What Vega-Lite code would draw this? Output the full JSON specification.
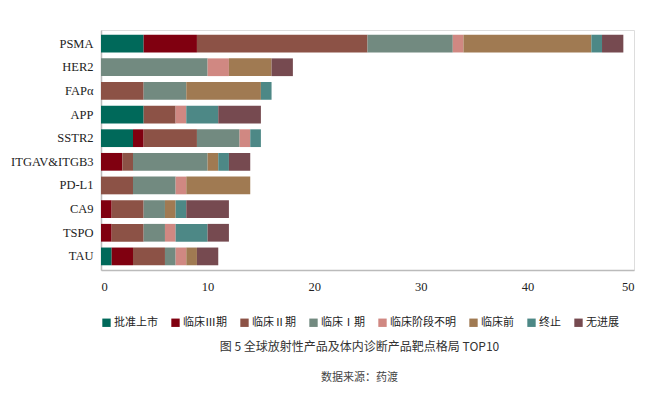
{
  "$schema": "https://vega.github.io/schema/vega-lite/v6.json",
  "width": 533,
  "height": 240,
  "autosize": {"type": "none"},
  "padding": {"left": 101, "top": 30, "right": 16, "bottom": 129},
  "background": "white",
  "title": {
    "text": "图 5   全球放射性产品及体内诊断产品靶点格局 TOP10",
    "subtitle": "数据来源：药渡",
    "orient": "bottom",
    "anchor": "middle",
    "dx": -8,
    "font": "Noto Sans CJK SC",
    "fontSize": 12,
    "fontWeight": "normal",
    "color": "#333333",
    "subtitleFont": "Noto Sans CJK SC",
    "subtitleFontSize": 11,
    "subtitleColor": "#444444",
    "subtitlePadding": 18,
    "offset": 14
  },
  "data": {
    "values": [
      {"target": "PSMA", "stage": "批准上市", "n": 4},
      {"target": "PSMA", "stage": "临床Ⅲ期", "n": 5},
      {"target": "PSMA", "stage": "临床Ⅱ期", "n": 16},
      {"target": "PSMA", "stage": "临床Ⅰ期", "n": 8},
      {"target": "PSMA", "stage": "临床阶段不明", "n": 1},
      {"target": "PSMA", "stage": "临床前", "n": 12},
      {"target": "PSMA", "stage": "终止", "n": 1},
      {"target": "PSMA", "stage": "无进展", "n": 2},
      {"target": "HER2", "stage": "临床Ⅰ期", "n": 10},
      {"target": "HER2", "stage": "临床阶段不明", "n": 2},
      {"target": "HER2", "stage": "临床前", "n": 4},
      {"target": "HER2", "stage": "无进展", "n": 2},
      {"target": "FAPα", "stage": "临床Ⅱ期", "n": 4},
      {"target": "FAPα", "stage": "临床Ⅰ期", "n": 4},
      {"target": "FAPα", "stage": "临床前", "n": 7},
      {"target": "FAPα", "stage": "终止", "n": 1},
      {"target": "APP", "stage": "批准上市", "n": 4},
      {"target": "APP", "stage": "临床Ⅱ期", "n": 3},
      {"target": "APP", "stage": "临床阶段不明", "n": 1},
      {"target": "APP", "stage": "终止", "n": 3},
      {"target": "APP", "stage": "无进展", "n": 4},
      {"target": "SSTR2", "stage": "批准上市", "n": 3},
      {"target": "SSTR2", "stage": "临床Ⅲ期", "n": 1},
      {"target": "SSTR2", "stage": "临床Ⅱ期", "n": 5},
      {"target": "SSTR2", "stage": "临床Ⅰ期", "n": 4},
      {"target": "SSTR2", "stage": "临床阶段不明", "n": 1},
      {"target": "SSTR2", "stage": "终止", "n": 1},
      {"target": "ITGAV&ITGB3", "stage": "临床Ⅲ期", "n": 2},
      {"target": "ITGAV&ITGB3", "stage": "临床Ⅱ期", "n": 1},
      {"target": "ITGAV&ITGB3", "stage": "临床Ⅰ期", "n": 7},
      {"target": "ITGAV&ITGB3", "stage": "临床前", "n": 1},
      {"target": "ITGAV&ITGB3", "stage": "终止", "n": 1},
      {"target": "ITGAV&ITGB3", "stage": "无进展", "n": 2},
      {"target": "PD-L1", "stage": "临床Ⅱ期", "n": 3},
      {"target": "PD-L1", "stage": "临床Ⅰ期", "n": 4},
      {"target": "PD-L1", "stage": "临床阶段不明", "n": 1},
      {"target": "PD-L1", "stage": "临床前", "n": 6},
      {"target": "CA9", "stage": "临床Ⅲ期", "n": 1},
      {"target": "CA9", "stage": "临床Ⅱ期", "n": 3},
      {"target": "CA9", "stage": "临床Ⅰ期", "n": 2},
      {"target": "CA9", "stage": "临床前", "n": 1},
      {"target": "CA9", "stage": "终止", "n": 1},
      {"target": "CA9", "stage": "无进展", "n": 4},
      {"target": "TSPO", "stage": "临床Ⅲ期", "n": 1},
      {"target": "TSPO", "stage": "临床Ⅱ期", "n": 3},
      {"target": "TSPO", "stage": "临床Ⅰ期", "n": 2},
      {"target": "TSPO", "stage": "临床阶段不明", "n": 1},
      {"target": "TSPO", "stage": "终止", "n": 3},
      {"target": "TSPO", "stage": "无进展", "n": 2},
      {"target": "TAU", "stage": "批准上市", "n": 1},
      {"target": "TAU", "stage": "临床Ⅲ期", "n": 2},
      {"target": "TAU", "stage": "临床Ⅱ期", "n": 3},
      {"target": "TAU", "stage": "临床Ⅰ期", "n": 1},
      {"target": "TAU", "stage": "临床阶段不明", "n": 1},
      {"target": "TAU", "stage": "临床前", "n": 1},
      {"target": "TAU", "stage": "无进展", "n": 2}
    ]
  },
  "transform": [
    {"calculate": "indexof(['批准上市', '临床Ⅲ期', '临床Ⅱ期', '临床Ⅰ期', '临床阶段不明', '临床前', '终止', '无进展'], datum.stage)", "as": "stage_rank"}
  ],
  "mark": {"type": "bar"},
  "encoding": {
    "y": {
      "field": "target",
      "type": "nominal",
      "sort": ["PSMA", "HER2", "FAPα", "APP", "SSTR2", "ITGAV&ITGB3", "PD-L1", "CA9", "TSPO", "TAU"],
      "scale": {"paddingInner": 0.25, "paddingOuter": 0.2},
      "axis": {
        "title": null,
        "ticks": false,
        "domainColor": "#bbbbbb",
        "domainWidth": 1.5,
        "labelFont": "Liberation Serif",
        "labelFontSize": 12.5,
        "labelColor": "#222222",
        "labelPadding": 8
      }
    },
    "x": {
      "field": "n",
      "type": "quantitative",
      "stack": "zero",
      "scale": {"domain": [0, 50], "nice": false},
      "axis": {
        "title": null,
        "values": [0, 10, 20, 30, 40, 50],
        "grid": false,
        "ticks": false,
        "domainColor": "#bbbbbb",
        "domainWidth": 1.5,
        "labelFont": "Liberation Serif",
        "labelFontSize": 12.5,
        "labelColor": "#222222",
        "labelPadding": 10
      }
    },
    "color": {
      "field": "stage",
      "type": "nominal",
      "scale": {
        "domain": ["批准上市", "临床Ⅲ期", "临床Ⅱ期", "临床Ⅰ期", "临床阶段不明", "临床前", "终止", "无进展"],
        "range": ["#00695a", "#800010", "#8c5246", "#728a80", "#d08882", "#a07a52", "#4d8886", "#764a50"]
      },
      "legend": {
        "title": null,
        "orient": "bottom",
        "direction": "horizontal",
        "symbolType": "square",
        "symbolSize": 70,
        "symbolStrokeWidth": 0,
        "symbolOffset": 0,
        "labelFont": "Noto Sans CJK SC",
        "labelFontSize": 11,
        "labelOffset": 2,
        "labelColor": "#222222",
        "columnPadding": 12,
        "offset": 24
      }
    },
    "order": {"field": "stage_rank", "type": "quantitative", "sort": "ascending"}
  }
}
